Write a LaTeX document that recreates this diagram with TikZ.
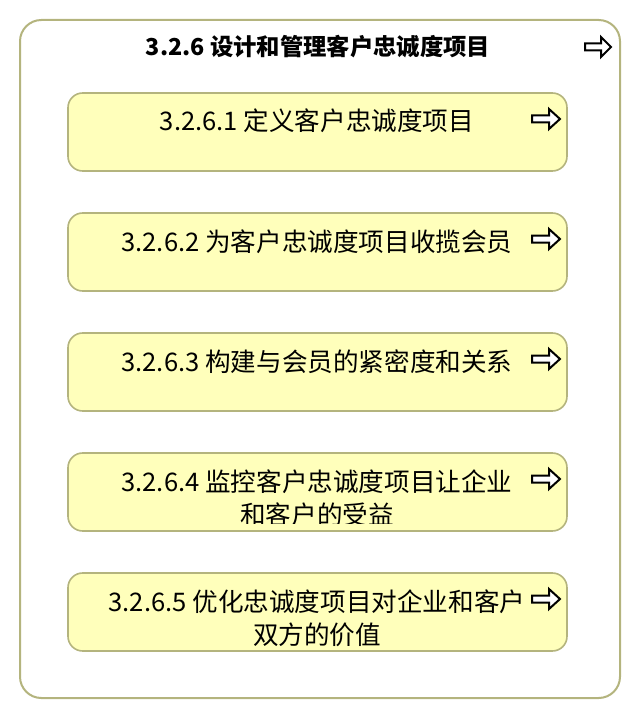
\documentclass[tikz,border=0pt]{standalone}
\usepackage{fontspec}
\setmainfont{Noto Sans CJK SC}
\definecolor{edgeolive}{RGB}{180,180,126}
\definecolor{boxfill}{RGB}{255,255,187}
\begin{document}
\begin{tikzpicture}[x=0.75pt,y=-0.75pt,
  container/.style={draw=edgeolive, line width=1.5pt, rounded corners=16pt, fill=white,
    inner sep=0pt, minimum width=450pt, minimum height=508.5pt},
  taskbox/.style={draw=edgeolive, line width=1.2pt, rounded corners=11pt, fill=boxfill,
    inner sep=0pt, minimum width=374.25pt, minimum height=58.5pt},
  titletext/.style={inner sep=0pt, font=\fontsize{17.5pt}{22pt}\selectfont\bfseries},
  tasktext/.style={inner sep=0pt, anchor=north, align=center, font=\fontsize{19.2pt}{25pt}\selectfont},
  arrowicon/.style={draw=black, fill=white, line width=1.5pt, line join=miter}
]
\useasboundingbox (0,0) rectangle (640,720);
\node[container] (outer) at (320,359) {};
\node[titletext] (title) at (318,47) {3.2.6 设计和管理客户忠诚度项目};
\draw[arrowicon, shift={(611,47)}] (-26,-3.5) -- (-10,-3.5) -- (-10,-10) -- (0,0) -- (-10,10) -- (-10,3.5) -- (-26,3.5) -- cycle;

\foreach \i/\y/\txt in {1/132/{3.2.6.1 定义客户忠诚度项目},
                       2/252/{3.2.6.2 为客户忠诚度项目收揽会员},
                       3/372/{3.2.6.3 构建与会员的紧密度和关系},
                       5/612/{3.2.6.5 优化忠诚度项目对企业和客户\\双方的价值}} {
  \node[taskbox] (box\i) at (317.5,\y) {};
  \node[tasktext] (text\i) at (317,\y-23) {\txt};
  \draw[arrowicon, shift={(560,\y-13)}] (-28,-3.5) -- (-11,-3.5) -- (-11,-10) -- (0,0) -- (-11,10) -- (-11,3.5) -- (-28,3.5) -- cycle;
}
\node[taskbox] (box4) at (317.5,492) {};
\begin{scope}
  \clip (60,440) rectangle (580,523);
  \node[tasktext] (text4) at (317,469) {3.2.6.4 监控客户忠诚度项目让企业\\和客户的受益};
\end{scope}
\draw[arrowicon, shift={(560,479)}] (-28,-3.5) -- (-11,-3.5) -- (-11,-10) -- (0,0) -- (-11,10) -- (-11,3.5) -- (-28,3.5) -- cycle;
\end{tikzpicture}
\end{document}
